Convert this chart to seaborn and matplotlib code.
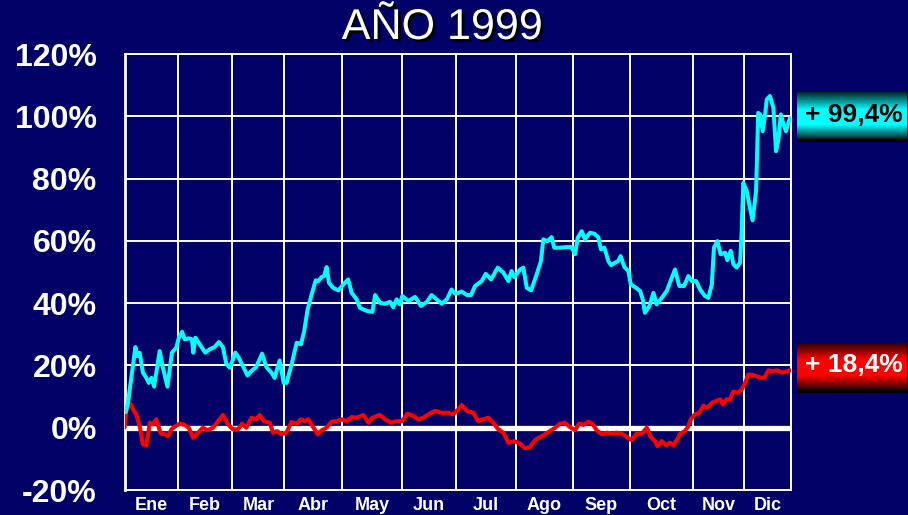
import numpy as np
import pandas as pd
import matplotlib
matplotlib.use('Agg')
import matplotlib.pyplot as plt
import matplotlib.patheffects as pe
from matplotlib.colors import LinearSegmentedColormap
import seaborn as sns

# trading-day position (0..250) and cumulative return (%)
cyan_day = [0.5, 1.3, 4.1, 4.8, 5.7, 6.9, 8.2, 9.1, 10.1, 11.1, 13.2, 14.4, 16.1, 17.8, 19.4,
            20.4, 21.6, 22.6, 24.1, 25.3, 25.8, 26.6, 28.2, 30.3, 32.0, 33.8, 35.4, 36.9, 38.2,
            39.5, 41.6, 42.8, 44.4, 46.1, 47.6, 49.4, 51.6, 53.2, 55.1, 56.3, 58.2, 59.7, 60.8,
            62.7, 64.6, 66.2, 67.4, 68.7, 70.2, 71.7, 72.7, 74.0, 74.9, 75.8, 76.7, 78.3, 80.2,
            82.1, 83.9, 85.2, 87.1, 88.3, 90.9, 93.0, 94.0, 95.8, 97.7, 99.6, 100.8, 102.1,
            103.3, 104.2, 106.5, 109.0, 111.2, 113.4, 115.2, 117.1, 119.0, 120.9, 122.7, 124.0,
            126.5, 128.4, 130.0, 131.5, 134.0, 135.5, 137.5, 140.0, 142.1, 144.0, 145.2, 146.2,
            148.4, 149.6, 150.9, 152.5, 154.6, 156.2, 157.1, 158.7, 160.2, 161.2, 163.4, 165.9,
            167.7, 169.0, 170.0, 171.5, 172.7, 174.6, 176.2, 177.7, 178.7, 180.0, 181.5, 182.5,
            184.0, 185.2, 186.1, 187.5, 189.0, 189.9, 191.9, 193.4, 194.4, 195.2, 196.9, 198.4,
            199.6, 201.5, 203.4, 205.3, 206.5, 208.1, 209.9, 211.5, 212.8, 214.4, 215.9, 217.7,
            219.0, 220.3, 221.1, 222.4, 223.6, 225.3, 226.1, 227.4, 228.4, 229.6, 230.9, 231.5,
            232.1, 233.4, 234.6, 235.6, 236.9, 237.7, 238.4, 239.4, 240.3, 240.9, 242.1, 243.4,
            244.4, 245.3, 246.2, 247.2, 248.1, 249.0, 249.6]
cyan_val = [5.0, 8.0, 25.9, 23.0, 24.1, 17.7, 16.0, 14.4, 16.0, 13.2, 24.6, 19.3, 13.2, 24.1, 25.7,
            28.9, 30.8, 28.4, 28.7, 28.4, 24.1, 28.9, 26.8, 24.1, 25.2, 25.9, 27.5, 25.9, 20.5,
            19.3, 24.1, 22.5, 19.8, 16.8, 18.2, 19.5, 23.8, 19.5, 17.7, 16.0, 21.6, 14.4, 14.4,
            20.4, 27.3, 26.8, 31.0, 38.0, 42.8, 47.3, 47.1, 48.4, 48.7, 51.6, 46.5, 44.9, 44.1,
            46.0, 47.6, 43.3, 41.2, 38.5, 37.5, 37.2, 42.6, 40.1, 39.8, 40.4, 38.7, 41.2,
            39.6, 42.3, 40.7, 42.0, 39.1, 40.4, 42.6, 41.2, 39.8, 41.2, 44.4, 43.0,
            43.7, 42.6, 42.6, 45.5, 47.1, 49.4, 47.6, 51.4, 49.8, 47.1, 50.3, 48.4,
            50.8, 51.4, 44.9, 44.1, 49.2, 53.5, 60.5, 59.9, 61.2, 57.8, 57.8, 58.0,
            58.0, 55.7, 61.0, 63.1, 60.5, 62.6, 62.3, 61.2, 57.3, 57.8, 53.5, 52.2,
            53.0, 53.5, 55.1, 51.6, 50.3, 46.0, 44.9, 43.9, 41.2, 36.9, 39.1, 43.3,
            39.6, 41.7, 43.9, 48.2, 50.8, 45.5, 45.5, 48.7, 47.1, 47.1, 44.4, 42.3,
            41.7, 46.0, 57.8, 59.9, 55.7, 56.2, 53.8, 56.8, 52.5, 51.4, 53.0, 63.1,
            78.6, 76.0, 70.6, 66.6, 76.0, 101.1, 100.6, 95.2, 100.6, 105.4, 106.5, 102.7,
            88.8, 92.6, 100.6, 97.4, 95.2, 97.9, 99.4]

red_day = [0.0, 0.7, 2.0, 3.2, 4.4, 5.7, 6.9, 8.2, 9.5, 10.7, 11.9, 13.6, 15.1, 16.3, 17.6, 19.1,
           20.7, 22.6, 24.1, 25.7, 27.6, 29.4, 31.1, 33.2, 35.1, 36.9, 38.8, 40.7, 42.6, 44.1,
           45.7, 47.6, 49.4, 50.7, 52.3, 54.5, 55.7, 57.3, 58.8, 60.8, 62.6, 64.6, 66.2, 67.7,
           68.9, 70.8, 72.5, 74.0, 75.8, 77.7, 79.6, 81.5, 83.3, 85.2, 87.1, 89.6, 91.5, 93.0,
           95.8, 97.7, 100.0, 102.1, 104.0, 106.2, 108.3, 110.2, 112.1, 114.0, 116.5, 119.0,
           121.5, 123.3, 125.2, 126.5, 128.4, 130.8, 132.7, 134.6, 136.5, 138.3, 140.2, 142.1,
           144.0, 146.2, 148.4, 150.2, 152.1, 154.0, 155.9, 157.7, 159.6, 161.5, 163.4, 165.2,
           167.1, 169.0, 170.5, 172.1, 174.0, 175.5, 177.1, 179.0, 180.9, 182.8, 184.6, 186.5,
           188.4, 190.2, 192.1, 194.0, 195.9, 197.4, 199.0, 199.9, 201.5, 203.1, 204.6, 205.9,
           207.4, 208.4, 210.2, 211.5, 212.4, 214.0, 215.6, 217.1, 218.6, 220.3, 222.1, 223.4,
           224.4, 225.9, 227.1, 228.4, 230.2, 231.5, 232.8, 234.0, 235.9, 237.7, 239.9, 241.5,
           243.1, 244.9, 246.5, 248.1, 249.6]
red_val = [0.0, 5.4, 8.0, 5.9, 4.3, 0.5, -5.3, -5.6, 1.6, 1.1, 2.7, -1.9, -2.1, -2.7, -0.5, 0.5,
           1.3, 0.9, 0.0, -3.2, -1.6, 0.0, -0.8, 0.0, 2.1, 4.1, 1.1, -0.5, -0.5, 1.3,
           0.0, 3.2, 2.7, 4.1, 2.1, 1.6, -1.6, -1.1, -2.1, -1.5, 1.8, 1.3, 2.7, 2.1,
           2.7, 0.2, -2.1, -0.8, 0.0, 1.9, 2.1, 2.7, 2.1, 3.4, 3.2, 4.1, 1.6, 3.2,
           4.1, 2.7, 1.6, 2.1, 2.1, 4.5, 3.8, 2.7, 3.2, 4.3, 5.4, 4.8,
           4.8, 4.3, 5.9, 7.3, 5.4, 4.8, 2.1, 2.7, 3.2, 1.6, -0.5, -1.6,
           -4.8, -4.3, -5.1, -6.6, -6.2, -4.0, -3.0, -2.1, -1.1, 0.0, 1.3, 1.6,
           0.2, -0.8, 1.3, 0.9, 1.9, 1.3, -0.8, -2.1, -1.6, -1.9, -1.6, -1.9,
           -3.0, -4.0, -1.9, -1.9, 0.0, -3.0, -4.3, -5.9, -4.3, -5.6, -4.8, -5.6,
           -3.7, -1.9, -1.1, 0.5, 2.7, 4.3, 4.8, 7.0, 6.4, 8.0, 8.6, 9.1,
           7.5, 9.1, 9.1, 11.6, 11.2, 12.3, 14.4, 17.1, 16.9, 16.3, 15.9, 18.4,
           18.2, 18.4, 17.7, 18.0, 18.4]

month_edges = [0, 20, 40.5, 60, 81.6, 104.1, 124.3, 146.9, 168.2, 189.6, 213.2, 232.3, 250]
months = ['Ene', 'Feb', 'Mar', 'Abr', 'May', 'Jun', 'Jul', 'Ago', 'Sep', 'Oct', 'Nov', 'Dic']
y_ticks = [-20, 0, 20, 40, 60, 80, 100, 120]

NAVY = '#000066'

sns.set_style('white', {'axes.facecolor': NAVY, 'figure.facecolor': NAVY,
                        'axes.edgecolor': 'white', 'text.color': 'white',
                        'xtick.color': 'white', 'ytick.color': 'white'})
plt.rcParams['font.family'] = ['Liberation Sans', 'DejaVu Sans']

df_cyan = pd.DataFrame({'day': cyan_day, 'ret': cyan_val})
df_red = pd.DataFrame({'day': red_day, 'ret': red_val})

fig = plt.figure(figsize=(9.08, 5.15), dpi=100)
ax = fig.add_axes([124.5 / 908, 1 - 490 / 515, (791 - 124.5) / 908, (490 - 54) / 515])

# grid
for e in month_edges:
    ax.axvline(e, color='white', lw=1.4, zorder=1)
for t in y_ticks:
    ax.axhline(t, color='white', lw=1.4, zorder=1)
ax.axhline(0, color='white', lw=3.8, zorder=2)

sns.lineplot(data=df_red, x='day', y='ret', color='#ff0000', lw=3.0, ax=ax,
             estimator=None, sort=False, zorder=3)
sns.lineplot(data=df_cyan, x='day', y='ret', color='#00ffff', lw=2.9, ax=ax,
             estimator=None, sort=False, zorder=4)

ax.set_xlim(0, 250)
ax.set_ylim(-20, 120)
ax.set_yticks(y_ticks)
ax.set_yticklabels([f'{t}%' for t in y_ticks], fontsize=23, fontweight='bold', color='white')
ax.tick_params(axis='y', direction='out', length=8, width=2, pad=12, colors='white')
ax.set_xticks(month_edges)
ax.set_xticklabels([])
ax.tick_params(axis='x', length=0)
mids = [(month_edges[i] + month_edges[i + 1]) / 2 for i in range(len(months))]
ax.set_xticks(mids, minor=True)
ax.set_xticklabels(months, minor=True, fontsize=13, fontweight='bold', color='white')
ax.tick_params(axis='x', which='minor', length=0, pad=5)
ax.set_xlabel('')
ax.set_ylabel('')
for s in ax.spines.values():
    s.set_color('white')
    s.set_linewidth(1.4)
ax.spines['left'].set_linewidth(2)

fig.text(442 / 908, 1 - 28 / 515, 'AÑO 1999', fontsize=31, color='white', ha='center', va='center',
         path_effects=[pe.withSimplePatchShadow(offset=(2, -2), shadow_rgbFace='black', alpha=0.9)])

# value boxes with vertical gradients
def value_box(y_top, label, dark, bright, txt_color):
    bax = fig.add_axes([797 / 908, 1 - (y_top + 50) / 515, 110 / 908, 50 / 515])
    cmap = LinearSegmentedColormap.from_list('g', [dark, bright])
    prof = np.concatenate([np.linspace(0, 1, 18), np.ones(14), np.linspace(1, 0, 15)])
    grad = np.tile(prof[:, None], (1, 10))
    bax.imshow(grad, cmap=cmap, aspect='auto', extent=[0, 1, 0.06, 1])
    bax.axhspan(0, 0.06, color='black')
    bax.set_xlim(0, 1)
    bax.set_ylim(0, 1)
    bax.axis('off')
    bax.text(0.52, 0.55, label, ha='center', va='center', fontsize=19, fontweight='bold',
             color=txt_color)

value_box(92, '+ 99,4%', '#002b2b', '#00ffff', 'black')
value_box(343, '+ 18,4%', '#2b0000', '#ff0000', 'white')

plt.savefig('out.png', dpi=100, facecolor=NAVY)
